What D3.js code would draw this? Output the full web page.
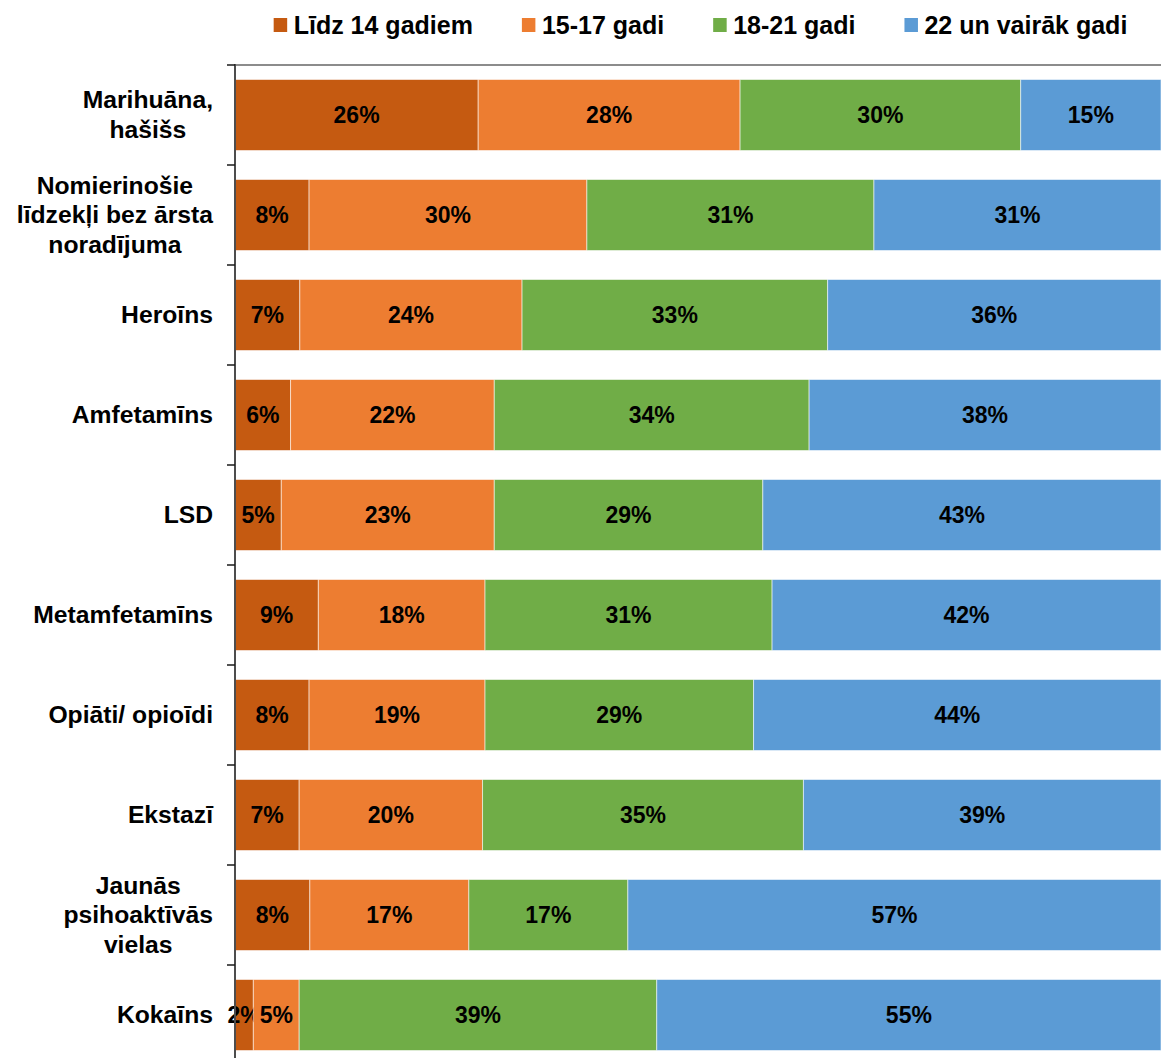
<!DOCTYPE html>
<html lang="lv">
<head>
<meta charset="utf-8">
<script src="https://cdn.jsdelivr.net/npm/d3@7"></script>
<style>
  html, body { margin: 0; padding: 0; background: #fff; }
  svg { display: block; font-family: "Liberation Sans", Arial, sans-serif; font-weight: bold; }
</style>
</head>
<body>
<svg id="chart" width="1161" height="1058"></svg>
<script>
// Age at first use, share of respondents by substance
const categories = [
  "Marihuāna,\nhašišs",
  "Nomierinošie\nlīdzekļi bez ārsta\nnoradījuma",
  "Heroīns",
  "Amfetamīns",
  "LSD",
  "Metamfetamīns",
  "Opiāti/ opioīdi",
  "Ekstazī",
  "Jaunās\npsihoaktīvās\nvielas",
  "Kokaīns"
];
const seriesNames = ["Līdz 14 gadiem", "15-17 gadi", "18-21 gadi", "22 un vairāk gadi"];
const under14  = [26, 8, 7, 6, 5, 9, 8, 7, 8, 2];
const age15_17 = [28, 30, 24, 22, 23, 18, 19, 20, 17, 5];
const age18_21 = [30, 31, 33, 34, 29, 31, 29, 35, 17, 39];
const age22up  = [15, 31, 36, 38, 43, 42, 44, 39, 57, 55];
const colors = ["#C55A11", "#ED7D31", "#70AD47", "#5B9BD5"];

const seriesValues = [under14, age15_17, age18_21, age22up];
const rows = categories.map((c, i) => {
  const r = { cat: c };
  seriesNames.forEach((s, k) => { r[s] = seriesValues[k][i]; });
  return r;
});

const svg = d3.select("#chart");
const W = 1161;
const plot = { left: 235, right: 1161, top: 65, bottom: 1065 };

const x = d3.scaleLinear().domain([0, 1]).range([plot.left, plot.right]);
const y = d3.scaleBand().domain(categories)
  .range([plot.top, plot.bottom])
  .paddingInner(0.29).paddingOuter(0.145);

const stack = d3.stack().keys(seriesNames).offset(d3.stackOffsetExpand);
const stacked = stack(rows);

// Bars
const layers = svg.append("g").selectAll("g")
  .data(stacked).join("g")
  .attr("fill", (d, i) => colors[i]);

layers.selectAll("rect")
  .data(d => d.map(p => ({ p, key: d.key })))
  .join("rect")
  .attr("x", d => x(d.p[0]))
  .attr("y", d => y(d.p.data.cat))
  .attr("width", d => x(d.p[1]) - x(d.p[0]))
  .attr("height", y.bandwidth())
  .attr("stroke", "#ffffff")
  .attr("stroke-opacity", 0.55)
  .attr("stroke-width", 1);

// Value labels
layers.selectAll("text")
  .data(d => d.map(p => ({ p, key: d.key })))
  .join("text")
  .attr("x", d => (x(d.p[0]) + x(d.p[1])) / 2)
  .attr("y", d => y(d.p.data.cat) + y.bandwidth() / 2)
  .attr("dy", "0.35em")
  .attr("text-anchor", "middle")
  .attr("font-size", 23)
  .attr("fill", "#000")
  .text(d => d.p.data[d.key] + "%");

// Top frame line
svg.append("line")
  .attr("x1", plot.left).attr("x2", W)
  .attr("y1", plot.top).attr("y2", plot.top)
  .attr("stroke", "#8c8c8c").attr("stroke-width", 2);

// Category axis with ticks on band boundaries
const axisG = svg.append("g");
axisG.append("line")
  .attr("x1", plot.left).attr("x2", plot.left)
  .attr("y1", plot.top - 1).attr("y2", 1058)
  .attr("stroke", "#4d4d4d").attr("stroke-width", 2);
d3.range(categories.length + 1).forEach(i => {
  const yy = plot.top + i * y.step();
  axisG.append("line")
    .attr("x1", plot.left - 8).attr("x2", plot.left)
    .attr("y1", yy).attr("y2", yy)
    .attr("stroke", "#1a1a1a").attr("stroke-width", 1.5);
});

// Category labels: lines centred within a right-aligned block
const labelRight = 213;
const lineH = 29.5;
const catFont = 24.7;
categories.forEach(c => {
  const lines = c.split("\n");
  const g = svg.append("g");
  const t = g.append("text")
    .attr("font-size", catFont)
    .attr("text-anchor", "middle")
    .attr("fill", "#000");
  const cy = y(c) + y.bandwidth() / 2;
  const first = cy - (lines.length - 1) * lineH / 2;
  lines.forEach((ln, j) => {
    t.append("tspan").attr("y", first + j * lineH).attr("dy", "0.33em").text(ln);
  });
  const maxW = d3.max(t.selectAll("tspan").nodes(), n => n.getComputedTextLength());
  t.selectAll("tspan").attr("x", labelRight - maxW / 2);
});

// Legend
const legend = svg.append("g");
const legFont = 25;
const itemGap = 49;
let cursor = 0;
seriesNames.forEach((s, i) => {
  const g = legend.append("g");
  g.append("rect").attr("x", 0).attr("y", 18).attr("width", 13.5).attr("height", 14)
    .attr("fill", colors[i]);
  const t = g.append("text").attr("x", 20).attr("y", 34)
    .attr("font-size", legFont).attr("fill", "#000").text(s);
  const w = 20 + t.node().getComputedTextLength();
  g.attr("transform", `translate(${cursor},0)`);
  cursor += w + itemGap;
});
const legendW = cursor - itemGap;
legend.attr("transform", `translate(${700.5 - legendW / 2},0)`);
</script>
</body>
</html>
